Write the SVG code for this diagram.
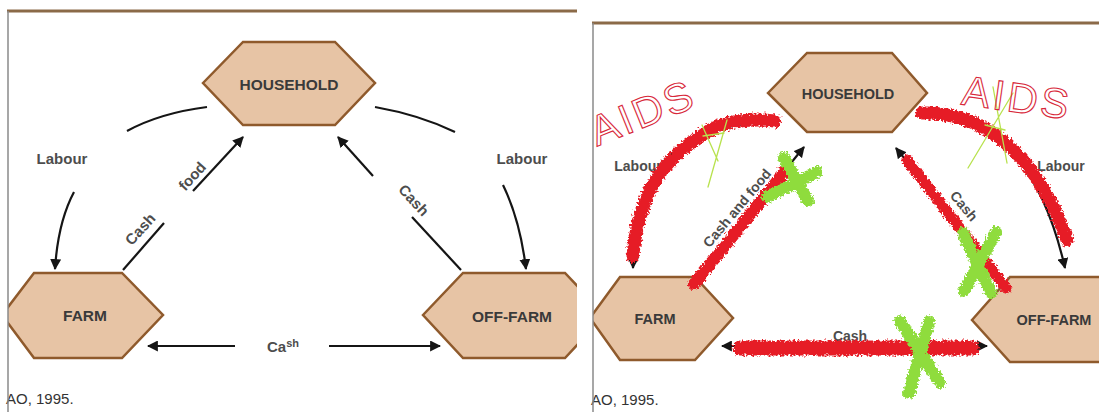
<svg xmlns="http://www.w3.org/2000/svg" width="1099" height="412" viewBox="0 0 1099 412">
  <style>
    .node { fill: #e7c4a5; stroke: #8f5a2c; stroke-width: 2.5; }
    .nl { font-family: "Liberation Sans", Arial, sans-serif; font-weight: bold; font-size: 15.5px; fill: #3a3a3a; text-anchor: middle; dominant-baseline: central; }
    .nl2 { font-size: 14.5px; }
    .lbl { font-family: "Liberation Sans", Arial, sans-serif; font-weight: bold; font-size: 15px; fill: #4d4d4d; text-anchor: middle; dominant-baseline: central; }
    .lbl2 { font-size: 14px; }
    .src { font-family: "Liberation Sans", Arial, sans-serif; font-size: 15px; fill: #333; }
    .ln { fill: none; stroke: #151515; stroke-width: 2.2; }
    .arr { marker-end: url(#ah); }
    .frame { stroke: #8b6a48; stroke-width: 3; }
    .side { stroke: #8a8a8a; stroke-width: 1.5; }
    .scrib { fill: none; stroke: #e61e28; stroke-linecap: round; stroke-linejoin: round; }
    .cross { fill: none; stroke: #8fdc3c; stroke-linecap: round; stroke-width: 12; }
    .thin { fill: none; stroke: #b8e24e; stroke-width: 1.3; stroke-linecap: round; }
    .hand { font-family: "Liberation Sans", Arial, sans-serif; font-size: 42px; fill: none; stroke: #d8283a; stroke-width: 1.1; letter-spacing: 3px; text-anchor: middle; }
  </style>
  <defs>
    <marker id="ah" viewBox="0 0 10 10" refX="9" refY="5" markerWidth="11" markerHeight="11" markerUnits="userSpaceOnUse" orient="auto">
      <path d="M0,0 L10,5 L0,10 z" fill="#151515"/>
    </marker>
    <clipPath id="clipL"><rect x="8" y="11" width="569" height="401"/></clipPath>
    <clipPath id="clipR"><rect x="593" y="23" width="506" height="389"/></clipPath>
    <filter id="rough" filterUnits="userSpaceOnUse" x="0" y="0" width="1099" height="412">
      <feTurbulence type="fractalNoise" baseFrequency="0.45" numOctaves="2" seed="3" result="n"/>
      <feDisplacementMap in="SourceGraphic" in2="n" scale="7" xChannelSelector="R" yChannelSelector="G"/>
    </filter>
  </defs>

  <rect width="1099" height="412" fill="#ffffff"/>

  <!-- Left panel: household economy flows -->
  <g id="panel-left">
    <g clip-path="url(#clipL)">
      <g id="household-l">
        <polygon class="node" points="203,83 243,42 335,42 375,83 335,125 243,125"/>
        <text class="nl" x="289" y="84">HOUSEHOLD</text>
      </g>
      <g id="farm-l">
        <polygon class="node" points="2,315 34,273 122,273 163,315 122,358 34,358"/>
        <text class="nl" x="85" y="315">FARM</text>
      </g>
      <g id="offfarm-l">
        <polygon class="node" points="423,315 463,273 565,273 605,315 565,358 463,358"/>
        <text class="nl" x="512" y="316">OFF-FARM</text>
      </g>
    </g>

    <g id="connectors-l">
      <!-- labour to farm -->
      <path class="ln" d="M207,107 Q160,113 127,131"/>
      <path class="ln arr" d="M74,192 Q58,222 55,269"/>
      <!-- labour to off-farm -->
      <path class="ln" d="M375,107 Q420,115 455,132"/>
      <path class="ln arr" d="M503,185 Q520,220 526,269"/>
      <!-- cash and food to household -->
      <path class="ln" d="M123,270 L164,223"/>
      <path class="ln arr" d="M193,191 L243,137"/>
      <!-- cash from off-farm to household -->
      <path class="ln arr" d="M373,176 L338,137"/>
      <path class="ln" d="M412,217 L461,270"/>
      <!-- cash between farm and off-farm -->
      <path class="ln arr" d="M235,346 L148,346"/>
      <path class="ln arr" d="M329,346 L440,346"/>
    </g>

    <g id="labels-l">
      <text class="lbl" x="62" y="158">Labour</text>
      <text class="lbl" x="522" y="158">Labour</text>
      <text class="lbl" transform="translate(140,229) rotate(-48)">Cash</text>
      <text class="lbl" transform="translate(192,176) rotate(-48)">food</text>
      <text class="lbl" transform="translate(414,200) rotate(47)">Cash</text>
      <text class="lbl" x="283" y="346">Ca<tspan font-size="11" dy="-3">sh</tspan></text>
      <text class="src" x="6" y="404">AO, 1995.</text>
    </g>

    <line class="frame" x1="7" y1="11" x2="577" y2="11"/>
    <line class="side" x1="8" y1="11" x2="8" y2="412"/>
  </g>

  <!-- Right panel: the same flows, struck through -->
  <g id="panel-right">
    <g clip-path="url(#clipR)">
      <g id="household-r">
        <polygon class="node" points="768,93 807,53 892,53 927,93 892,132 807,132"/>
        <text class="nl nl2" x="848" y="94">HOUSEHOLD</text>
      </g>
      <g id="farm-r">
        <polygon class="node" points="590,318 620,277 695,277 733,318 695,360 620,360"/>
        <text class="nl nl2" x="655" y="319">FARM</text>
      </g>
      <g id="offfarm-r">
        <polygon class="node" points="972,320 1010,277 1110,277 1150,320 1110,362 1010,362"/>
        <text class="nl nl2" x="1054" y="320">OFF-FARM</text>
      </g>
    </g>

    <g id="connectors-r">
      <path class="ln arr" d="M775,121 Q700,124 665,160 Q635,195 633,268"/>
      <path class="ln arr" d="M923,113 Q975,117 1000,140 Q1045,180 1065,268"/>
      <path class="ln arr" d="M697,278 L804,147"/>
      <path class="ln arr" d="M1004,283 L896,148"/>
      <path class="ln arr" d="M860,346 L722,346"/>
      <path class="ln arr" d="M850,346 L987,346"/>
    </g>

    <g id="labels-r">
      <text class="lbl lbl2" x="638" y="166">Labour</text>
      <text class="lbl lbl2" x="1061" y="166">Labour</text>
      <text class="lbl lbl2" transform="translate(737,208) rotate(-50)">Cash and food</text>
      <text class="lbl lbl2" transform="translate(964,206) rotate(50)">Cash</text>
      <text class="lbl lbl2" x="850" y="336">Cash</text>
      <text class="src" x="591" y="405">AO, 1995.</text>
    </g>

    <!-- red scribbles over the flows -->
    <g id="scribbles" filter="url(#rough)">
      <path class="scrib" stroke-width="13" d="M775,121 C745,118 722,122 705,133 C682,148 662,165 650,190 C638,215 634,238 633,256"/>
      <path class="scrib" stroke-width="12" d="M694,284 L786,170"/>
      <path class="scrib" stroke-width="13" d="M922,113 C950,112 970,120 986,129 C1006,141 1022,157 1036,177 C1050,200 1061,222 1067,240"/>
      <path class="scrib" stroke-width="11" d="M907,160 L1006,288"/>
      <path class="scrib" stroke-width="15" d="M740,348 L972,348"/>
    </g>

    <!-- green crosses -->
    <g id="crosses" filter="url(#rough)">
      <path class="cross" d="M784,158 L808,201 M817,172 L767,197"/>
      <path class="cross" d="M963,233 L991,293 M996,232 L964,291"/>
      <path class="cross" d="M900,321 L940,383 M929,322 L909,393"/>
    </g>
    <g id="ticks">
      <path class="thin" d="M702,125 L718,161 M727,120 L708,187"/>
      <path class="thin" d="M703,136 L724,133" stroke="#f08a1a"/>
      <path class="thin" d="M993,87 L1007,163 M1013,93 L968,168"/>
      <path class="thin" d="M985,125 L1005,130" stroke="#f08a1a"/>
    </g>

    <!-- handwritten notes -->
    <text class="hand" transform="translate(648,126) rotate(-22)">AIDS</text>
    <text class="hand" transform="translate(1015,112) rotate(8)">AIDS</text>

    <line class="frame" x1="592" y1="23" x2="1099" y2="23"/>
    <line class="side" x1="593" y1="23" x2="593" y2="412"/>
  </g>
</svg>
